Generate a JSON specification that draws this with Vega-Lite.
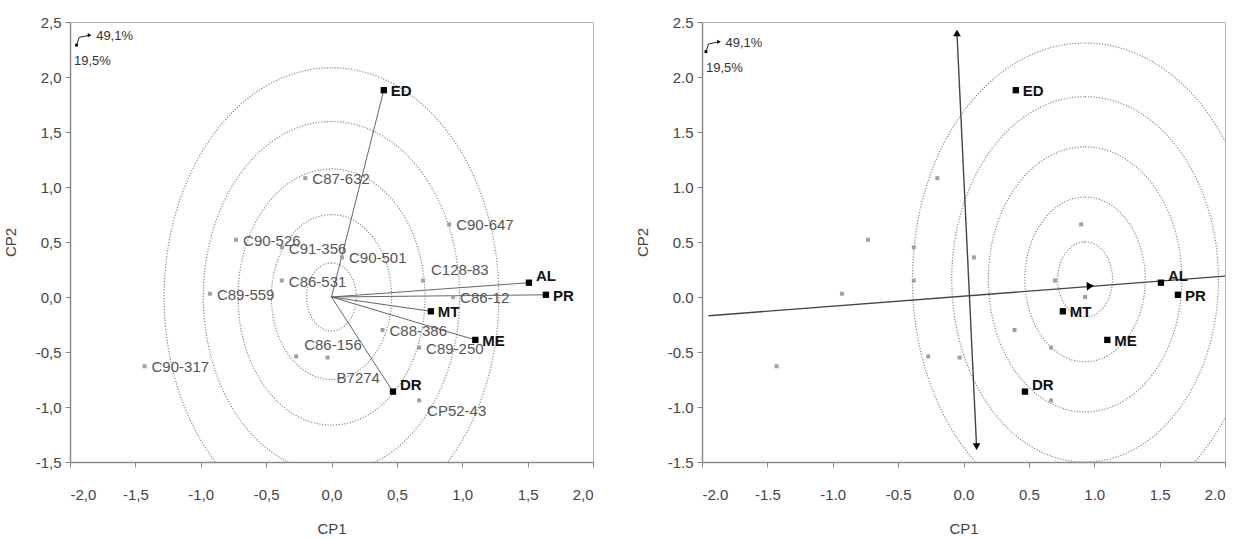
{
  "$schema": "https://vega.github.io/schema/vega-lite/v6.json",
  "padding": {"left": 2, "top": 14, "right": 5, "bottom": 0},
  "spacing": 109,
  "bounds": "flush",
  "config": {
    "font": "Liberation Sans",
    "view": {"stroke": "#b4b4b4", "strokeWidth": 1},
    "axis": {"grid": false, "domainColor": "#8a8a8a", "domainWidth": 1.5, "tickColor": "#8a8a8a", "tickSize": 5, "labelFontSize": 15, "labelColor": "#444444", "titleFontSize": 15, "titleFontWeight": "normal", "titleColor": "#444444", "labelOverlap": false},
    "axisX": {"labelPadding": 20, "titlePadding": 19},
    "axisY": {"labelPadding": 4, "minExtent": 37, "maxExtent": 37, "titlePadding": 15}
  },
  "datasets": {
    "genotypes": [
      {"name": "C87-632", "cp1": -0.20, "cp2": 1.08},
      {"name": "C90-647", "cp1": 0.90, "cp2": 0.66},
      {"name": "C90-526", "cp1": -0.73, "cp2": 0.52},
      {"name": "C91-356", "cp1": -0.38, "cp2": 0.45},
      {"name": "C90-501", "cp1": 0.08, "cp2": 0.36},
      {"name": "C86-531", "cp1": -0.38, "cp2": 0.15},
      {"name": "C128-83", "cp1": 0.70, "cp2": 0.15},
      {"name": "C86-12", "cp1": 0.93, "cp2": 0.00},
      {"name": "C89-559", "cp1": -0.93, "cp2": 0.03},
      {"name": "C90-317", "cp1": -1.43, "cp2": -0.63},
      {"name": "C86-156", "cp1": -0.27, "cp2": -0.54},
      {"name": "B7274", "cp1": -0.03, "cp2": -0.55},
      {"name": "C88-386", "cp1": 0.39, "cp2": -0.30},
      {"name": "C89-250", "cp1": 0.67, "cp2": -0.46},
      {"name": "CP52-43", "cp1": 0.67, "cp2": -0.94}
    ],
    "traits": [
      {"name": "ED", "cp1": 0.40, "cp2": 1.88},
      {"name": "AL", "cp1": 1.51, "cp2": 0.13},
      {"name": "PR", "cp1": 1.64, "cp2": 0.02},
      {"name": "MT", "cp1": 0.76, "cp2": -0.13},
      {"name": "ME", "cp1": 1.10, "cp2": -0.39},
      {"name": "DR", "cp1": 0.47, "cp2": -0.86}
    ],
    "ringsLeft": [
      {"r": 0.19, "cp1": 0.0, "cp2": 0.0},
      {"r": 0.46, "cp1": 0.0, "cp2": 0.0},
      {"r": 0.715, "cp1": 0.0, "cp2": 0.0},
      {"r": 0.98, "cp1": 0.0, "cp2": 0.0},
      {"r": 1.28, "cp1": 0.0, "cp2": 0.0}
    ],
    "ringsRight": [
      {"r": 0.21, "cp1": 0.93, "cp2": 0.16},
      {"r": 0.46, "cp1": 0.93, "cp2": 0.16},
      {"r": 0.74, "cp1": 0.93, "cp2": 0.16},
      {"r": 1.02, "cp1": 0.93, "cp2": 0.16},
      {"r": 1.32, "cp1": 0.93, "cp2": 0.16}
    ],
    "atc": [
      {"cp1": -1.95, "cp2": -0.17},
      {"cp1": 2.0, "cp2": 0.19}
    ],
    "ato": [
      {"cp1": -0.05, "cp2": 2.40},
      {"cp1": 0.10, "cp2": -1.36}
    ],
    "atcHead": [{"cp1": 0.97, "cp2": 0.10}],
    "atoTop": [{"cp1": -0.05, "cp2": 2.40}],
    "atoBottom": [{"cp1": 0.10, "cp2": -1.36}],
    "notesLeft": [
      {"label": "49,1%", "cp1": -1.80, "cp2": 2.37},
      {"label": "19,5%", "cp1": -1.97, "cp2": 2.15}
    ],
    "notesRight": [
      {"label": "49,1%", "cp1": -1.82, "cp2": 2.31},
      {"label": "19,5%", "cp1": -1.97, "cp2": 2.08}
    ],
    "arrowLeft": [
      {"cp1": -1.95, "cp2": 2.29},
      {"cp1": -1.93, "cp2": 2.36},
      {"cp1": -1.85, "cp2": 2.38}
    ],
    "arrowRight": [
      {"cp1": -1.97, "cp2": 2.23},
      {"cp1": -1.95, "cp2": 2.30},
      {"cp1": -1.87, "cp2": 2.32}
    ]
  },
  "hconcat": [
    {
      "width": 523,
      "height": 440,
      "encoding": {
        "x": {"field": "cp1", "type": "quantitative", "scale": {"domain": [-2, 2], "nice": false, "zero": false}, "axis": {"title": "CP1", "values": [-2, -1.5, -1, -0.5, 0, 0.5, 1, 1.5, 2], "labelExpr": "replace(replace(format(datum.value, '.1f'), '.', ','), '\u2212', '-')"}},
        "y": {"field": "cp2", "type": "quantitative", "scale": {"domain": [-1.5, 2.5], "nice": false, "zero": false}, "axis": {"title": "CP2", "values": [-1.5, -1, -0.5, 0, 0.5, 1, 1.5, 2, 2.5], "labelExpr": "replace(replace(format(datum.value, '.1f'), '.', ','), '\u2212', '-')"}}
      },
      "layer": [
        {
          "data": {"name": "ringsLeft"},
          "mark": {"type": "point", "shape": "M0,-1A0.73,1,0,1,1,0,1A0.73,1,0,1,1,0,-1Z", "filled": false, "stroke": "#8a8a8a", "strokeWidth": 1.2, "strokeDash": [1.2, 1.6], "opacity": 1, "clip": true},
          "encoding": {"size": {"field": "r", "type": "quantitative", "scale": {"type": "pow", "exponent": 2, "domain": [0, 1], "range": [0, 128310]}, "legend": null}}
        },
        {
          "data": {"name": "traits"},
          "mark": {"type": "rule", "color": "#666666", "strokeWidth": 1},
          "encoding": {"x": {"datum": 0, "type": "quantitative"}, "y": {"datum": 0, "type": "quantitative"}, "x2": {"field": "cp1"}, "y2": {"field": "cp2"}}
        },
        {
          "data": {"name": "genotypes"},
          "mark": {"type": "square", "color": "#a0a0a0", "size": 16, "opacity": 1}
        },
        {
          "data": {"name": "genotypes"},
          "transform": [{"filter": {"not": {"field": "name", "oneOf": ["C128-83", "C86-156", "CP52-43", "B7274"]}}}],
          "mark": {"type": "text", "align": "left", "baseline": "middle", "dx": 7, "dy": 1, "fontSize": 15, "color": "#555555"},
          "encoding": {"text": {"field": "name"}}
        },
        {
          "data": {"name": "genotypes"},
          "transform": [{"filter": {"field": "name", "oneOf": ["C128-83", "C86-156"]}}],
          "mark": {"type": "text", "align": "left", "baseline": "middle", "dx": 8, "dy": -11, "fontSize": 15, "color": "#555555"},
          "encoding": {"text": {"field": "name"}}
        },
        {
          "data": {"name": "genotypes"},
          "transform": [{"filter": {"field": "name", "oneOf": ["CP52-43"]}}],
          "mark": {"type": "text", "align": "left", "baseline": "middle", "dx": 8, "dy": 11, "fontSize": 15, "color": "#555555"},
          "encoding": {"text": {"field": "name"}}
        },
        {
          "data": {"name": "genotypes"},
          "transform": [{"filter": {"field": "name", "oneOf": ["B7274"]}}],
          "mark": {"type": "text", "align": "left", "baseline": "middle", "dx": 9, "dy": 20, "fontSize": 15, "color": "#555555"},
          "encoding": {"text": {"field": "name"}}
        },
        {
          "data": {"name": "traits"},
          "mark": {"type": "square", "color": "#000000", "size": 40, "opacity": 1}
        },
        {
          "data": {"name": "traits"},
          "transform": [{"filter": {"not": {"field": "name", "oneOf": ["AL", "DR"]}}}],
          "mark": {"type": "text", "align": "left", "baseline": "middle", "dx": 7, "dy": 1, "fontSize": 15, "fontWeight": "bold", "color": "#111111"},
          "encoding": {"text": {"field": "name"}}
        },
        {
          "data": {"name": "traits"},
          "transform": [{"filter": {"field": "name", "oneOf": ["AL", "DR"]}}],
          "mark": {"type": "text", "align": "left", "baseline": "middle", "dx": 7, "dy": -7, "fontSize": 15, "fontWeight": "bold", "color": "#111111"},
          "encoding": {"text": {"field": "name"}}
        },
        {
          "data": {"name": "arrowLeft"},
          "mark": {"type": "line", "color": "#222222", "strokeWidth": 1},
          "encoding": {}
        },
        {
          "data": {"name": "arrowLeft"},
          "transform": [{"filter": "datum.cp1 > -1.9"}],
          "mark": {"type": "point", "shape": "triangle-right", "filled": true, "color": "#000000", "size": 18, "opacity": 1}
        },
        {
          "data": {"name": "arrowLeft"},
          "transform": [{"filter": "datum.cp1 < -1.94"}],
          "mark": {"type": "square", "color": "#000000", "size": 8, "opacity": 1}
        },
        {
          "data": {"name": "notesLeft"},
          "mark": {"type": "text", "align": "left", "baseline": "middle", "fontSize": 13, "color": "#333333"},
          "encoding": {"text": {"field": "label"}}
        }
      ]
    },
    {
      "width": 523,
      "height": 440,
      "encoding": {
        "x": {"field": "cp1", "type": "quantitative", "scale": {"domain": [-2, 2], "nice": false, "zero": false}, "axis": {"title": "CP1", "values": [-2, -1.5, -1, -0.5, 0, 0.5, 1, 1.5, 2], "labelExpr": "replace(format(datum.value, '.1f'), '\u2212', '-')"}},
        "y": {"field": "cp2", "type": "quantitative", "scale": {"domain": [-1.5, 2.5], "nice": false, "zero": false}, "axis": {"title": "CP2", "values": [-1.5, -1, -0.5, 0, 0.5, 1, 1.5, 2, 2.5], "labelExpr": "replace(format(datum.value, '.1f'), '\u2212', '-')"}}
      },
      "layer": [
        {
          "data": {"name": "ringsRight"},
          "mark": {"type": "point", "shape": "M0,-1A0.73,1,0,1,1,0,1A0.73,1,0,1,1,0,-1Z", "filled": false, "stroke": "#8a8a8a", "strokeWidth": 1.2, "strokeDash": [1.2, 1.6], "opacity": 1, "clip": true},
          "encoding": {"size": {"field": "r", "type": "quantitative", "scale": {"type": "pow", "exponent": 2, "domain": [0, 1], "range": [0, 128310]}, "legend": null}}
        },
        {
          "data": {"name": "atc"},
          "mark": {"type": "line", "color": "#444444", "strokeWidth": 1.4},
          "encoding": {}
        },
        {
          "data": {"name": "ato"},
          "mark": {"type": "line", "color": "#444444", "strokeWidth": 1.4},
          "encoding": {"order": {"field": "cp2", "type": "quantitative"}}
        },
        {
          "data": {"name": "atcHead"},
          "mark": {"type": "point", "shape": "triangle-right", "filled": true, "color": "#000000", "size": 70, "angle": -4, "opacity": 1}
        },
        {
          "data": {"name": "atoTop"},
          "mark": {"type": "point", "shape": "triangle-up", "filled": true, "color": "#000000", "size": 60, "opacity": 1}
        },
        {
          "data": {"name": "atoBottom"},
          "mark": {"type": "point", "shape": "triangle-down", "filled": true, "color": "#000000", "size": 60, "opacity": 1}
        },
        {
          "data": {"name": "genotypes"},
          "mark": {"type": "square", "color": "#a0a0a0", "size": 16, "opacity": 1}
        },
        {
          "data": {"name": "traits"},
          "mark": {"type": "square", "color": "#000000", "size": 40, "opacity": 1}
        },
        {
          "data": {"name": "traits"},
          "transform": [{"filter": {"not": {"field": "name", "oneOf": ["AL", "DR"]}}}],
          "mark": {"type": "text", "align": "left", "baseline": "middle", "dx": 7, "dy": 1, "fontSize": 15, "fontWeight": "bold", "color": "#111111"},
          "encoding": {"text": {"field": "name"}}
        },
        {
          "data": {"name": "traits"},
          "transform": [{"filter": {"field": "name", "oneOf": ["AL", "DR"]}}],
          "mark": {"type": "text", "align": "left", "baseline": "middle", "dx": 7, "dy": -7, "fontSize": 15, "fontWeight": "bold", "color": "#111111"},
          "encoding": {"text": {"field": "name"}}
        },
        {
          "data": {"name": "arrowRight"},
          "mark": {"type": "line", "color": "#222222", "strokeWidth": 1},
          "encoding": {}
        },
        {
          "data": {"name": "arrowRight"},
          "transform": [{"filter": "datum.cp1 > -1.9"}],
          "mark": {"type": "point", "shape": "triangle-right", "filled": true, "color": "#000000", "size": 18, "opacity": 1}
        },
        {
          "data": {"name": "arrowRight"},
          "transform": [{"filter": "datum.cp1 < -1.96"}],
          "mark": {"type": "square", "color": "#000000", "size": 8, "opacity": 1}
        },
        {
          "data": {"name": "notesRight"},
          "mark": {"type": "text", "align": "left", "baseline": "middle", "fontSize": 13, "color": "#333333"},
          "encoding": {"text": {"field": "label"}}
        }
      ]
    }
  ]
}
